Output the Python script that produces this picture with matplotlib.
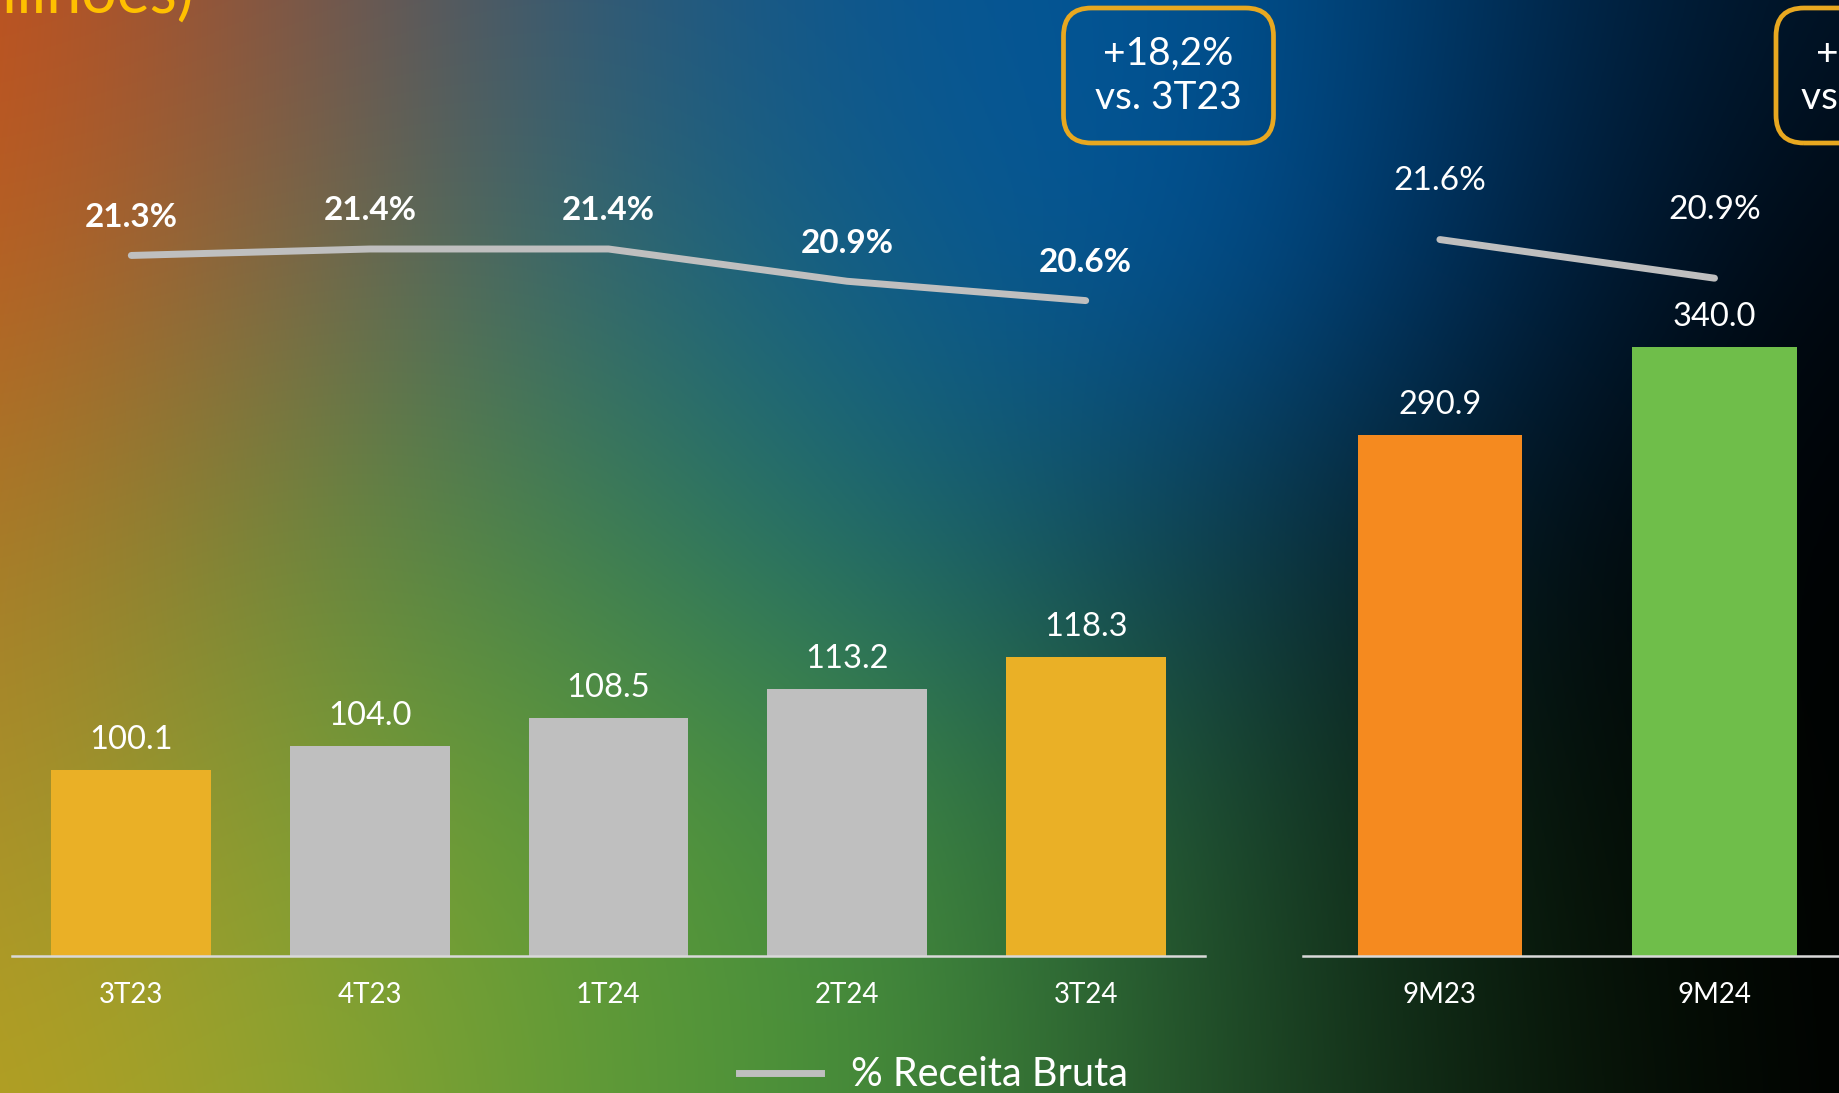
import numpy as np
import matplotlib
matplotlib.use('Agg')
import matplotlib.pyplot as plt
from matplotlib.colors import to_rgb
from matplotlib.patches import FancyBboxPatch
from matplotlib.lines import Line2D
from matplotlib.transforms import IdentityTransform

plt.rcParams['font.family'] = ['Lato', 'DejaVu Sans']

# data
quarters = ['3T23', '4T23', '1T24', '2T24', '3T24']
quarter_values = [100.1, 104.0, 108.5, 113.2, 118.3]
quarter_pct = [21.3, 21.4, 21.4, 20.9, 20.6]
periods = ['9M23', '9M24']
period_values = [290.9, 340.0]
period_pct = [21.6, 20.9]

quarter_colors = ['#EAB026', '#BFBFBF', '#BFBFBF', '#BFBFBF', '#EAB026']
period_colors = ['#F58A1F', '#6FBE4A']

# background gradient, sampled on a regular grid (rows top -> bottom)
bg_rows = [
    ['#C8501A', '#7A5548', '#2A5A7A', '#055594', '#005595', '#002A50', '#001020'],
    ['#C0601E', '#7A6A48', '#2A6A72', '#0A5A90', '#00539A', '#002040', '#000408'],
    ['#B07A25', '#6A8A3C', '#3A8050', '#1A6570', '#0D3A4A', '#020C12', '#000000'],
    ['#B09028', '#80A035', '#5A9A38', '#3F8A42', '#1B4A30', '#061408', '#000000'],
    ['#B8A020', '#90A530', '#5A9A38', '#428A3A', '#1F4A28', '#0A1A0A', '#000000'],
]
grid = np.array([[to_rgb(c) for c in row] for row in bg_rows])

W, H = 1840, 1093
fig = plt.figure(figsize=(W / 100, H / 100), dpi=100)

bg = fig.add_axes([0, 0, 1, 1])
dx = 0.5 / (grid.shape[1] - 1)
dy = 0.5 / (grid.shape[0] - 1)
bg.imshow(grid, aspect='auto', interpolation='bicubic',
          extent=[-dx, 1 + dx, -dy, 1 + dy])
bg.set_xlim(0, 1)
bg.set_ylim(0, 1)
bg.axis('off')

base = 956  # baseline in pixels from top

def style_axis(ax):
    ax.patch.set_visible(False)
    for s in ['top', 'left', 'right']:
        ax.spines[s].set_visible(False)
    ax.spines['bottom'].set_color('#D9D9D9')
    ax.spines['bottom'].set_linewidth(1.8)
    ax.set_yticks([])
    ax.tick_params(axis='x', length=0, pad=19, labelcolor='white', labelsize=20)

# left: quarters
ax1 = fig.add_axes([12 / W, 1 - base / H, 1193 / W, base / H])
style_axis(ax1)
x1 = np.arange(len(quarters))
ax1.bar(x1, quarter_values, width=0.67, color=quarter_colors, zorder=2)
ax1.set_xlim(-0.5, 4.5)
ax1.set_ylim(70, 224.6)
ax1.set_xticks(x1)
ax1.set_xticklabels(quarters)
for xi, v in zip(x1, quarter_values):
    ax1.annotate(f'{v:.1f}', (xi, v), xytext=(0, 30), textcoords='offset pixels',
                 ha='center', va='center', color='white', fontsize=23.5)

ax1b = ax1.twinx()
ax1b.set_ylim(10.44, 25.26)
ax1b.plot(x1, quarter_pct, color='#BFBFBF', linewidth=5, solid_capstyle='round')
ax1b.axis('off')
for xi, p in zip(x1, quarter_pct):
    ax1b.annotate(f'{p:.1f}%', (xi, p), xytext=(0, 38), textcoords='offset pixels',
                  ha='center', va='center', color='white', fontsize=24, fontweight='bold')

# right: nine months
ax2 = fig.add_axes([1302.6 / W, 1 - base / H, 549.2 / W, base / H])
style_axis(ax2)
x2 = np.arange(len(periods))
ax2.bar(x2, period_values, width=0.6, color=period_colors, zorder=2)
ax2.set_xlim(-0.5, 1.5)
ax2.set_ylim(0, 533.5)
ax2.set_xticks(x2)
ax2.set_xticklabels(periods)
for xi, v in zip(x2, period_values):
    ax2.annotate(f'{v:.1f}', (xi, v), xytext=(0, 30), textcoords='offset pixels',
                 ha='center', va='center', color='white', fontsize=23.5)

ax2b = ax2.twinx()
ax2b.set_ylim(8.62, 25.94)
ax2b.plot(x2, period_pct, color='#BFBFBF', linewidth=5, solid_capstyle='round')
ax2b.axis('off')
for xi, p, off in zip(x2, period_pct, [59, 68]):
    ax2b.annotate(f'{p:.1f}%', (xi, p), xytext=(0, off), textcoords='offset pixels',
                  ha='center', va='center', color='white', fontsize=24)

# growth boxes
for cx, txt in [(1168.5, '+18,2%\nvs. 3T23'), (1881, '+16,9%\nvs. 9M23')]:
    box = FancyBboxPatch((cx - 105, H - 143), 210, 135,
                         boxstyle='round,pad=0,rounding_size=28',
                         facecolor='none', edgecolor='#E8A820', linewidth=3.4,
                         transform=IdentityTransform())
    fig.add_artist(box)
    fig.text(cx / W, 1 - 76 / H, txt, ha='center', va='center', color='white',
             fontsize=28, linespacing=1.3)

# title (cut at top)
fig.text(194 / W, 1 - 13 / H, '(R$ milhões)', ha='right', va='baseline',
         color='#FFC000', fontsize=45)

# legend
handle = Line2D([], [], color='#BFBFBF', linewidth=5)
fig.legend([handle], ['% Receita Bruta'], loc='center left',
           bbox_to_anchor=(739 / W, 1 - 1075 / H), frameon=False,
           borderpad=0, borderaxespad=0,
           fontsize=28.5, labelcolor='white', handlelength=2.07, handletextpad=0.76)

fig.savefig('out.png', dpi=100)
